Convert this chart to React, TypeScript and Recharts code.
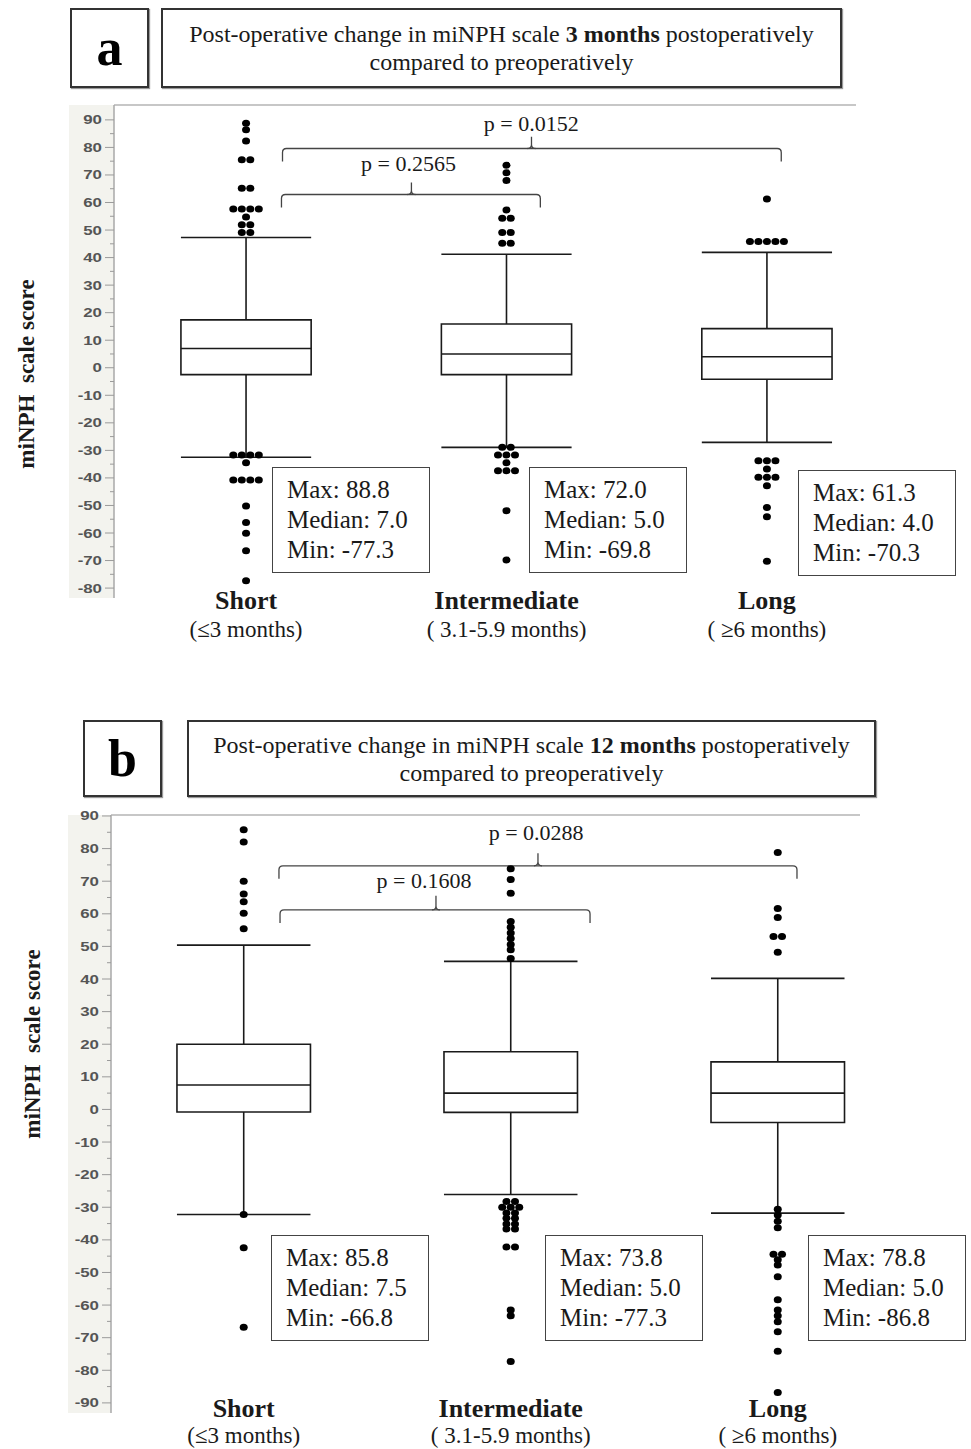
import React from 'react';
import { ComposedChart, Scatter, XAxis, YAxis, ReferenceArea, ReferenceLine } from 'recharts';

const categories = ['Short', 'Intermediate', 'Long'];
const categoryRanges = ['(≤3 months)', '( 3.1-5.9 months)', '( ≥6 months)'];

// panel a: change 3 months postoperatively
const m3High = [47.3, 41.2, 41.9];
const m3Q3 = [17.4, 15.9, 14.2];
const m3Median = [7.0, 5.0, 4.0];
const m3Q1 = [-2.5, -2.5, -4.2];
const m3Low = [-32.5, -28.9, -27.1];
const m3Max = [88.8, 72.0, 61.3];
const m3Min = [-77.3, -69.8, -70.3];
const m3OutShort = [
  88.8, 86.4, 82.3, 75.5, 75.5, 65.2, 65.2, 57.6, 57.6, 57.6, 57.6, 54.7, 51.9, 51.9, 49.1, 49.1,
  -31.7, -31.7, -31.7, -31.7, -34.5, -40.8, -40.8, -40.8, -40.8, -50.2, -56.2, -60.1, -66.4, -77.3,
];
const m3OutIntermediate = [
  73.5, 70.8, 68.0, 57.3, 54.3, 54.3, 49.1, 49.1, 45.2, 45.2,
  -28.9, -28.9, -31.7, -31.7, -31.7, -34.5, -37.4, -37.4, -37.4, -51.9, -69.8,
];
const m3OutLong = [
  61.3, 45.8, 45.8, 45.8, 45.8, 45.8,
  -33.8, -33.8, -33.8, -36.8, -39.8, -39.8, -39.8, -42.8, -50.7, -54.1, -70.3,
];
const m3PValues = ['0.2565', '0.0152'];
const m3Ticks = [90, 80, 70, 60, 50, 40, 30, 20, 10, 0, -10, -20, -30, -40, -50, -60, -70, -80];

// panel b: change 12 months postoperatively
const m12High = [50.4, 45.4, 40.2];
const m12Q3 = [20.0, 17.7, 14.6];
const m12Median = [7.5, 5.0, 5.0];
const m12Q1 = [-0.8, -0.9, -4.0];
const m12Low = [-32.2, -26.1, -31.8];
const m12Max = [85.8, 73.8, 78.8];
const m12Min = [-66.8, -77.3, -86.8];
const m12OutShort = [85.8, 82.0, 70.0, 66.1, 63.7, 60.2, 55.4, -32.2, -42.4, -66.8];
const m12OutIntermediate = [
  73.8, 70.5, 66.3, 57.6, 55.9, 54.1, 52.4, 50.6, 49.0, 46.3,
  -28.2, -28.2, -30.0, -30.0, -30.0, -31.8, -31.8, -33.4, -33.4, -35.1, -35.1, -36.7, -36.7,
  -42.2, -42.2, -61.5, -63.3, -77.3,
];
const m12OutLong = [
  78.8, 61.6, 58.9, 53.0, 53.0, 48.2,
  -30.6, -32.4, -34.3, -36.3, -44.4, -44.4, -46.1, -47.7, -51.3,
  -58.4, -61.5, -63.3, -65.1, -68.2, -74.2, -86.8,
];
const m12PValues = ['0.1608', '0.0288'];
const m12Ticks = [90, 80, 70, 60, 50, 40, 30, 20, 10, 0, -10, -20, -30, -40, -50, -60, -70, -80, -90];

const SERIF = '"Liberation Serif", "Times New Roman", serif';
const SANS = '"Liberation Sans", Arial, sans-serif';
const INK = '#1a1a1a';
const HALF = 0.25;
const DROP = 13; // bracket end drop, px

// stack equal values side by side, like the original dot strips
function stripPoints(groups: number[][]) {
  const pts: { x: number; y: number; slot: number; count: number }[] = [];
  groups.forEach((vals, i) => {
    const counts = new Map<number, number>();
    vals.forEach((v) => counts.set(v, (counts.get(v) ?? 0) + 1));
    const seen = new Map<number, number>();
    vals.forEach((v) => {
      const slot = seen.get(v) ?? 0;
      seen.set(v, slot + 1);
      pts.push({ x: i + 1, y: v, slot, count: counts.get(v) ?? 1 });
    });
  });
  return pts;
}

const OutlierDot = (p: any) => {
  const off = (p.payload.slot - (p.payload.count - 1) / 2) * 8.5;
  return <ellipse cx={p.cx + off} cy={p.cy} rx={4} ry={3.5} fill="#000" />;
};

const PText = (p: any) => (
  <text x={p.cx} y={p.cy} dy="0.35em" textAnchor="middle" fontFamily={SERIF} fontSize={22} fill={INK}>
    {`p = ${p.payload.text}`}
  </text>
);

// horizontal bracket with rounded ends dropping down
const BracketShape = (p: any) => {
  const { x1, x2, y1 } = p;
  const r = 4;
  const d = `M${x1},${y1 + DROP} L${x1},${y1 + r} Q${x1},${y1} ${x1 + r},${y1} L${x2 - r},${y1} Q${x2},${y1} ${x2},${y1 + r} L${x2},${y1 + DROP}`;
  return <path d={d} fill="none" stroke="#444" strokeWidth={1.3} />;
};

// small brace tip in the middle of a bracket
const BraceTip = (p: any) => {
  const { x1, y1, y2 } = p;
  const r = 4;
  const d = `M${x1 - r},${y1} Q${x1},${y1} ${x1},${y1 - r} M${x1 + r},${y1} Q${x1},${y1} ${x1},${y1 - r} L${x1},${y2}`;
  return <path d={d} fill="none" stroke="#444" strokeWidth={1.3} />;
};

function YTick(p: any) {
  const v = p.payload.value as number;
  const major = v % 10 === 0;
  return (
    <g>
      <line x1={p.x - (major ? 9 : 4)} x2={p.x} y1={p.y} y2={p.y} stroke="#9a9a9a" strokeWidth={1} />
      {major && (
        <text
          transform={`translate(${p.x - 12},${p.y + 4.5}) scale(1.35,1)`}
          textAnchor="end"
          fontFamily={SANS}
          fontWeight={700}
          fontSize={12.5}
          fill="#555"
        >
          {v}
        </text>
      )}
    </g>
  );
}

type Bracket = { x1: number; x2: number; xm: number; yLine: number; yTip: number; tx: number; ty: number };

type Layout = {
  label: string;
  months: string;
  labelBox: { left: number; top: number; width: number; height: number };
  titleBox: { left: number; top: number; width: number; height: number };
  chart: { top: number; width: number; height: number; axisWidth: number; marginRight: number; xAxisHeight: number };
  xDomain: [number, number];
  yDomain: [number, number];
  strip: { left: number; top: number; width: number; height: number };
  yTitle: { cx: number; cy: number };
  catDy: [number, number];
  statBoxes: { left: number; top: number }[];
  brackets: Bracket[];
};

const layoutA: Layout = {
  label: 'a',
  months: '3 months',
  labelBox: { left: 70, top: 8, width: 79, height: 80 },
  titleBox: { left: 161, top: 8, width: 681, height: 80 },
  chart: { top: 95, width: 870, height: 555, axisWidth: 114, marginRight: 14, xAxisHeight: 52 },
  xDomain: [0.493, 3.342],
  yDomain: [-83.6, 95.4],
  strip: { left: 69, top: 105, width: 45, height: 493 },
  yTitle: { cx: 27, cy: 374 },
  catDy: [2, 31],
  statBoxes: [{ left: 272, top: 467 }, { left: 529, top: 467 }, { left: 798, top: 470 }],
  brackets: [
    { x1: 1.136, x2: 2.13, xm: 1.635, yLine: 62.9, yTip: 67.3, tx: 1.624, ty: 74.4 },
    { x1: 1.14, x2: 3.055, xm: 2.096, yLine: 79.6, yTip: 83.9, tx: 2.095, ty: 88.6 },
  ],
};

const layoutB: Layout = {
  label: 'b',
  months: '12 months',
  labelBox: { left: 83, top: 720, width: 79, height: 77 },
  titleBox: { left: 187, top: 720, width: 689, height: 77 },
  chart: { top: 805, width: 871, height: 644, axisWidth: 111, marginRight: 11, xAxisHeight: 36 },
  xDomain: [0.503, 3.308],
  yDomain: [-93.1, 90.3],
  strip: { left: 68, top: 815, width: 43, height: 598 },
  yTitle: { cx: 33, cy: 1044 },
  catDy: [-5, 22],
  statBoxes: [{ left: 271, top: 1235 }, { left: 545, top: 1235 }, { left: 808, top: 1235 }],
  brackets: [
    { x1: 1.136, x2: 2.297, xm: 1.72, yLine: 61.2, yTip: 65.5, tx: 1.675, ty: 70.4 },
    { x1: 1.132, x2: 3.072, xm: 2.102, yLine: 74.7, yTip: 78.6, tx: 2.095, ty: 85.1 },
  ],
};

type Stats = {
  low: number[]; q1: number[]; median: number[]; q3: number[]; high: number[];
  max: number[]; min: number[]; outliers: number[][]; pValues: string[]; ticks: number[];
};

const statsA: Stats = {
  low: m3Low, q1: m3Q1, median: m3Median, q3: m3Q3, high: m3High,
  max: m3Max, min: m3Min, outliers: [m3OutShort, m3OutIntermediate, m3OutLong],
  pValues: m3PValues, ticks: m3Ticks,
};

const statsB: Stats = {
  low: m12Low, q1: m12Q1, median: m12Median, q3: m12Q3, high: m12High,
  max: m12Max, min: m12Min, outliers: [m12OutShort, m12OutIntermediate, m12OutLong],
  pValues: m12PValues, ticks: m12Ticks,
};

const boxStyle: React.CSSProperties = {
  position: 'absolute',
  boxSizing: 'border-box',
  border: '2px solid #333',
  boxShadow: '1px 1px 1px #999',
  background: '#fff',
};

function Panel({ lay, st }: { lay: Layout; st: Stats }) {
  const points = stripPoints(st.outliers);
  const pTexts = lay.brackets.map((b, i) => ({ x: b.tx, y: b.ty, text: st.pValues[i] }));
  const minors = st.ticks.slice(0, -1).map((t) => t - 5);
  const yTicks = [...st.ticks, ...minors].sort((a, b) => a - b);
  const c = lay.chart;
  const line = { stroke: INK, strokeWidth: 1.6 };

  return (
    <>
      <div style={{ ...boxStyle, ...lay.labelBox, display: 'flex', alignItems: 'center', justifyContent: 'center' }}>
        <span style={{ fontFamily: SERIF, fontWeight: 700, fontSize: 52, lineHeight: 1, color: '#000' }}>{lay.label}</span>
      </div>
      <div
        style={{
          ...boxStyle,
          ...lay.titleBox,
          display: 'flex',
          flexDirection: 'column',
          alignItems: 'center',
          justifyContent: 'center',
          fontFamily: SERIF,
          fontSize: 24,
          lineHeight: '28px',
          color: INK,
          whiteSpace: 'nowrap',
        }}
      >
        <div>
          Post-operative change in miNPH scale <b>{lay.months}</b> postoperatively
        </div>
        <div>compared to preoperatively</div>
      </div>

      <div style={{ position: 'absolute', ...lay.strip, background: '#f3f3ee' }} />
      <div
        style={{
          position: 'absolute',
          left: lay.yTitle.cx,
          top: lay.yTitle.cy,
          transform: 'translate(-50%, -50%) rotate(-90deg)',
          whiteSpace: 'pre',
          fontFamily: SERIF,
          fontWeight: 700,
          fontSize: 23,
          color: INK,
        }}
      >
        {'miNPH  scale score'}
      </div>

      <div style={{ position: 'absolute', left: 0, top: c.top }}>
        <ComposedChart width={c.width} height={c.height} margin={{ top: 10, right: c.marginRight, bottom: 0, left: 0 }}>
          <XAxis
            dataKey="x"
            type="number"
            domain={lay.xDomain}
            allowDataOverflow
            ticks={[1, 2, 3]}
            interval={0}
            height={c.xAxisHeight}
            axisLine={false}
            tickLine={false}
            tickSize={0}
            tickMargin={0}
            tick={(p: any) => {
              const i = Math.round(p.payload.value) - 1;
              return (
                <g>
                  <text x={p.x} y={p.y + lay.catDy[0]} dy="0.35em" textAnchor="middle" fontFamily={SERIF} fontWeight={700} fontSize={26} fill={INK}>
                    {categories[i]}
                  </text>
                  <text x={p.x} y={p.y + lay.catDy[1]} dy="0.35em" textAnchor="middle" fontFamily={SERIF} fontSize={23} fill={INK}>
                    {categoryRanges[i]}
                  </text>
                </g>
              );
            }}
          />
          <YAxis
            type="number"
            domain={lay.yDomain}
            allowDataOverflow
            ticks={yTicks}
            interval={0}
            width={c.axisWidth}
            axisLine={{ stroke: '#a8a8a8', strokeWidth: 1.5 }}
            tickLine={false}
            tickSize={0}
            tickMargin={0}
            tick={YTick}
          />
          <ReferenceLine y={lay.yDomain[1]} stroke="#b5b5b5" strokeWidth={1.5} />

          {categories.map((_, i) => (
            <ReferenceLine key={`wl${i}`} segment={[{ x: i + 1, y: st.low[i] }, { x: i + 1, y: st.q1[i] }]} {...line} />
          ))}
          {categories.map((_, i) => (
            <ReferenceLine key={`wh${i}`} segment={[{ x: i + 1, y: st.q3[i] }, { x: i + 1, y: st.high[i] }]} {...line} />
          ))}
          {categories.map((_, i) => (
            <ReferenceLine key={`cl${i}`} segment={[{ x: i + 1 - HALF, y: st.low[i] }, { x: i + 1 + HALF, y: st.low[i] }]} {...line} />
          ))}
          {categories.map((_, i) => (
            <ReferenceLine key={`ch${i}`} segment={[{ x: i + 1 - HALF, y: st.high[i] }, { x: i + 1 + HALF, y: st.high[i] }]} {...line} />
          ))}
          {categories.map((_, i) => (
            <ReferenceArea
              key={`box${i}`}
              x1={i + 1 - HALF}
              x2={i + 1 + HALF}
              y1={st.q1[i]}
              y2={st.q3[i]}
              fill="#fff"
              fillOpacity={1}
              stroke={INK}
              strokeWidth={1.6}
            />
          ))}
          {categories.map((_, i) => (
            <ReferenceLine key={`md${i}`} segment={[{ x: i + 1 - HALF, y: st.median[i] }, { x: i + 1 + HALF, y: st.median[i] }]} {...line} />
          ))}

          {lay.brackets.map((b, i) => (
            <ReferenceLine key={`bh${i}`} segment={[{ x: b.x1, y: b.yLine }, { x: b.x2, y: b.yLine }]} shape={BracketShape} />
          ))}
          {lay.brackets.map((b, i) => (
            <ReferenceLine key={`bt${i}`} segment={[{ x: b.xm, y: b.yLine }, { x: b.xm, y: b.yTip }]} shape={BraceTip} />
          ))}

          <Scatter data={points} dataKey="y" shape={OutlierDot} isAnimationActive={false} />
          <Scatter data={pTexts} dataKey="y" shape={PText} isAnimationActive={false} />
        </ComposedChart>
      </div>

      {lay.statBoxes.map((s, i) => (
        <div
          key={`st${i}`}
          style={{
            position: 'absolute',
            left: s.left,
            top: s.top,
            width: 158,
            height: 106,
            boxSizing: 'border-box',
            border: '1.5px solid #444',
            background: '#fff',
            padding: '7px 0 0 14px',
            fontFamily: SERIF,
            fontSize: 25,
            lineHeight: '30px',
            color: INK,
            whiteSpace: 'nowrap',
          }}
        >
          <div>{`Max: ${st.max[i].toFixed(1)}`}</div>
          <div>{`Median: ${st.median[i].toFixed(1)}`}</div>
          <div>{`Min: ${st.min[i].toFixed(1)}`}</div>
        </div>
      ))}
    </>
  );
}

export default function App() {
  return (
    <div style={{ position: 'relative', width: 971, height: 1449, background: '#fff', overflow: 'hidden' }}>
      <style>{'body{margin:0}'}</style>
      <Panel lay={layoutA} st={statsA} />
      <Panel lay={layoutB} st={statsB} />
    </div>
  );
}
